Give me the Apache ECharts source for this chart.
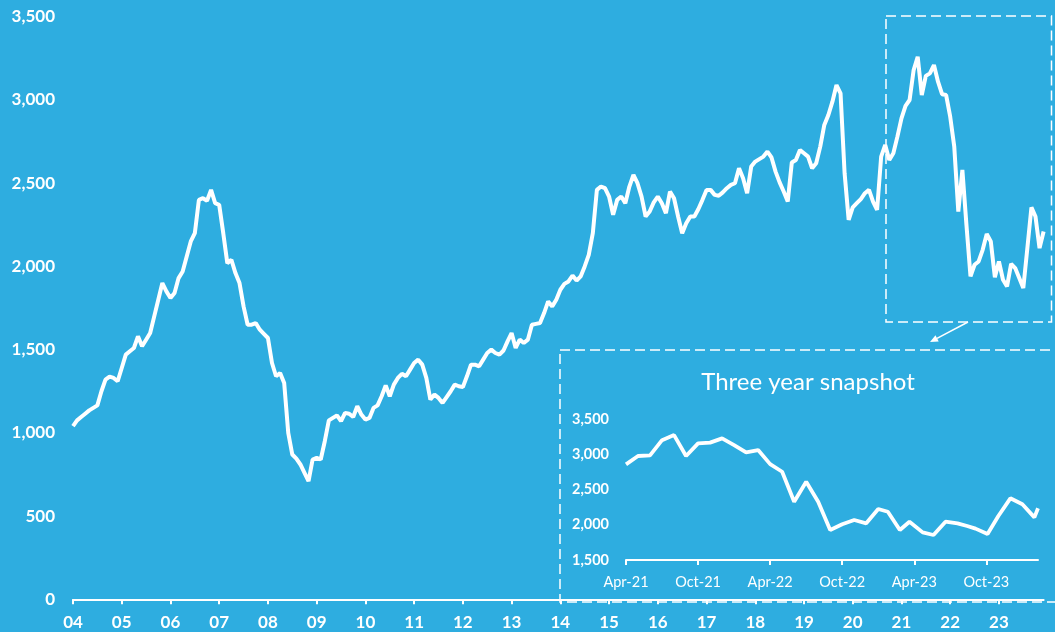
<!DOCTYPE html>
<html>
<head>
<meta charset="utf-8">
<script src="https://cdn.jsdelivr.net/npm/echarts@6/dist/echarts.min.js"></script>
<style>
html,body{margin:0;padding:0;background:#2eade0;}
#c{width:1055px;height:632px;}
</style>
</head>
<body>
<div id="c"></div>
<script>
// Main series: monthly values, Jan 2004 .. Dec 2023
const yearLabels = ['04','05','06','07','08','09','10','11','12','13','14','15','16','17','18','19','20','21','22','23'];
const v2004 = [1040,1075,1095,1115,1135,1150,1165,1250,1320,1338,1330,1310];
const v2005 = [1390,1470,1490,1510,1580,1520,1560,1600,1700,1800,1900,1850];
const v2006 = [1810,1840,1930,1970,2060,2150,2200,2400,2410,2395,2460,2380];
const v2007 = [2370,2200,2020,2040,1960,1900,1760,1650,1650,1660,1620,1595];
const v2008 = [1570,1420,1340,1360,1300,1000,870,845,810,760,710,840];
const v2009 = [850,840,950,1075,1090,1105,1070,1120,1115,1095,1160,1110];
const v2010 = [1080,1090,1150,1165,1220,1285,1220,1290,1330,1355,1340,1380];
const v2011 = [1420,1440,1410,1330,1200,1230,1210,1180,1215,1250,1290,1280];
const v2012 = [1275,1340,1410,1410,1400,1440,1480,1500,1480,1470,1495,1550];
const v2013 = [1600,1510,1560,1540,1560,1650,1655,1660,1720,1790,1760,1800];
const v2014 = [1860,1895,1910,1945,1915,1940,2000,2070,2200,2460,2480,2470];
const v2015 = [2420,2310,2400,2420,2380,2480,2550,2500,2420,2300,2330,2385];
const v2016 = [2420,2380,2320,2450,2410,2300,2200,2260,2300,2300,2345,2400];
const v2017 = [2460,2460,2430,2425,2445,2470,2490,2500,2590,2530,2440,2600];
const v2018 = [2630,2645,2660,2690,2655,2570,2505,2450,2390,2625,2640,2700];
const v2019 = [2680,2660,2590,2620,2720,2850,2910,2990,3090,3040,2560,2280];
const v2020 = [2355,2380,2405,2440,2460,2390,2340,2660,2730,2640,2680,2780];
const v2021 = [2890,2965,3000,3180,3260,3030,3145,3160,3210,3110,3035,3030];
const v2022 = [2900,2720,2330,2580,2250,1940,2010,2030,2100,2195,2150,1935];
const v2023 = [2030,1920,1880,2015,1990,1930,1870,2110,2355,2300,2110,2210];
const mainYTicks = [0,500,1000,1500,2000,2500,3000,3500];

// Inset "Three year snapshot": months after Apr-21, values
const insetMonths = [0,1,2,3,4,5,6,7,8,9,10,11,12,13,14,15,16,17,18,19,20,21,21.8,22.8,23.6,24.7,25.6,26.6,27.6,28.4,29.1,30.1,31,32,33,34,34.3];
const insetValues = [2857,2975,2985,3200,3272,2975,3155,3165,3225,3130,3027,3060,2860,2752,2327,2610,2327,1925,2006,2067,2020,2223,2185,1925,2043,1892,1855,2043,2020,1982,1945,1868,2124,2375,2290,2105,2233];
const insetTickLabels = ['Apr-21','Oct-21','Apr-22','Oct-22','Apr-23','Oct-23'];

const yearly = [v2004,v2005,v2006,v2007,v2008,v2009,v2010,v2011,v2012,v2013,v2014,v2015,v2016,v2017,v2018,v2019,v2020,v2021,v2022,v2023];
const mainValues = [].concat(...yearly);
const mainCats = [];
yearLabels.forEach(y => { for (let m = 0; m < 12; m++) mainCats.push(m === 0 ? y : y + '-' + (m + 1)); });
const insetData = insetMonths.map((m, i) => [m, insetValues[i]]);

const W = '#ffffff';
const chart = echarts.init(document.getElementById('c'));
const fmt = v => v.toLocaleString('en-US');
chart.setOption({
  backgroundColor: '#2eade0',
  animation: false,
  grid: [
    {left: 73, right: 11.4, top: 16.8, bottom: 32.7},
    {left: 626, right: 17, top: 419, bottom: 72}
  ],
  xAxis: [
    {
      type: 'category', gridIndex: 0, data: mainCats, boundaryGap: false,
      axisLine: {lineStyle: {color: W, width: 2}},
      axisTick: {show: true, length: 5, lineStyle: {color: W, width: 2}, interval: (i) => i % 12 === 0},
      axisLabel: {color: W, fontFamily: 'Lato', fontWeight: 'bold', fontSize: 17, margin: 15,
        interval: (i) => i % 12 === 0, formatter: (v) => v.length === 2 ? v : ''}
    },
    {
      type: 'value', gridIndex: 1, min: 0, max: 34.3, interval: 6,
      splitLine: {show: false},
      axisLine: {show: true, onZero: false, lineStyle: {color: W, width: 2}},
      axisTick: {show: true, length: 5, lineStyle: {color: W, width: 2}, customValues: [0,6,12,18,24,30]},
      axisLabel: {color: W, fontFamily: 'Lato', fontSize: 14.5, margin: 15,
        customValues: [0,6,12,18,24,30], formatter: (v) => insetTickLabels[Math.round(v / 6)] || ''}
    }
  ],
  yAxis: [
    {
      type: 'value', gridIndex: 0, min: 0, max: 3500, interval: 500,
      splitLine: {show: false}, axisLine: {show: false}, axisTick: {show: false},
      axisLabel: {color: W, fontFamily: 'Lato', fontWeight: 'bold', fontSize: 17, margin: 18, formatter: fmt}
    },
    {
      type: 'value', gridIndex: 1, min: 1500, max: 3500, interval: 500,
      splitLine: {show: false}, axisLine: {show: false}, axisTick: {show: false},
      axisLabel: {color: W, fontFamily: 'Lato', fontWeight: 'bold', fontSize: 14.5, margin: 17, formatter: fmt}
    }
  ],
  series: [
    {type: 'line', xAxisIndex: 0, yAxisIndex: 0, data: mainValues, symbol: 'none',
      lineStyle: {color: W, width: 4}, z: 3},
    {type: 'line', xAxisIndex: 1, yAxisIndex: 1, data: insetData, symbol: 'none',
      lineStyle: {color: W, width: 3.8}, z: 3}
  ],
  graphic: [
    {type: 'rect', shape: {x: 886, y: 16, width: 165.5, height: 306},
      style: {fill: 'none', stroke: W, lineWidth: 1.5, lineDash: [10, 5]}, z: 10},
    {type: 'rect', shape: {x: 560, y: 350, width: 520, height: 252},
      style: {fill: 'none', stroke: W, lineWidth: 1.5, lineDash: [10, 5]}, z: 10},
    {type: 'line', shape: {x1: 968, y1: 322, x2: 937, y2: 338.3},
      style: {stroke: W, lineWidth: 1.5}, z: 10},
    {type: 'polygon', shape: {points: [[930, 342], [938.7, 341.4], [935.5, 335.2]]},
      style: {fill: W}, z: 10},
    {type: 'text', x: 808, y: 382, z: 10,
      style: {text: 'Three year snapshot', fill: W, font: '24px Lato', textAlign: 'center', textVerticalAlign: 'middle'}}
  ]
});
</script>
</body>
</html>
